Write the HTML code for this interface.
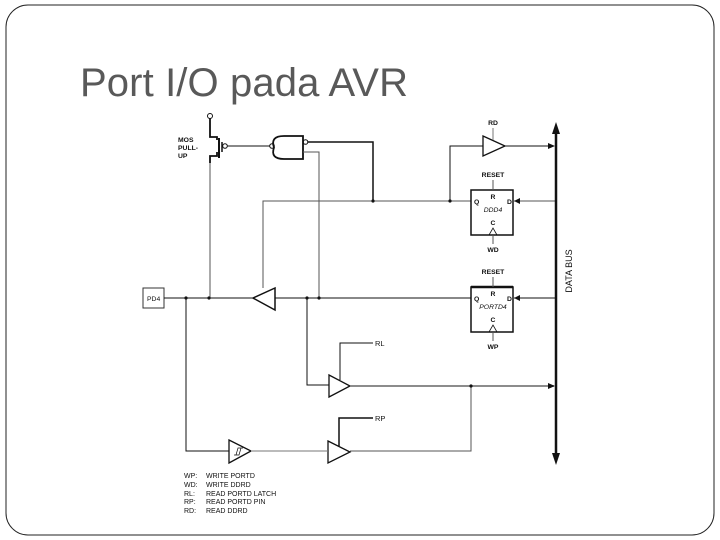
<!DOCTYPE html>
<html><head><meta charset="utf-8"><style>
html,body{margin:0;padding:0;background:#fff;}
svg{display:block;}
</style></head><body>
<svg width="720" height="540" viewBox="0 0 720 540" xmlns="http://www.w3.org/2000/svg" font-family="Liberation Sans, sans-serif">
<rect x="6" y="5" width="708" height="530" rx="22" fill="#fff" stroke="#222" stroke-width="1"/>
<text x="80" y="96" font-size="40" fill="#595959" textLength="328">Port I/O pada AVR</text>

<g stroke="#111" stroke-width="1" fill="none">
<circle cx="210" cy="116" r="2.5"/>
<path d="M210 118.5 V137 H217 V140" stroke-width="1.8"/>
<path d="M217 152 V156 H210 V163" stroke-width="1.8"/>
<path d="M219 138 V158" stroke-width="2"/>
<path d="M222 142 V152" stroke-width="1.5"/>
<circle cx="225" cy="146" r="2.3"/>
<path d="M227 146 H270"/>
<path d="M210 163 V298" stroke="#555"/>
<circle cx="272" cy="146" r="2.3"/>
<path d="M284 136 H303 V159 H284 Q270 159 274 147.5 Q270 136 284 136 Z" stroke-width="1.8"/>
<circle cx="305.5" cy="142" r="2.3"/>
<path d="M308 142 H373 V201" stroke-width="1.5"/>
<path d="M303 152 H319 V298" stroke="#555"/>
<path d="M263 288 V201 H471" stroke="#555"/>
<path d="M450 201 V146 H483"/>
<rect x="143" y="288" width="21" height="20" stroke="#333"/>
<path d="M164 298 H253"/>
<path d="M275 298 H471"/>
<path d="M253 298 L275 288 V310 Z" stroke-width="1.5"/>
<path d="M186 298 V451 H229"/>
<path d="M307 298 V385 H329"/>
<rect x="471" y="190" width="42" height="45" stroke-width="1.5"/>
<path d="M493 180 V190 M493 235 V244" stroke="#555"/>
<path d="M489 235 L493 228 L497 235" stroke-width="0.8"/>
<rect x="471" y="287" width="42" height="45" stroke-width="1.5"/>
<path d="M471 287 H513" stroke-width="2.5"/>
<path d="M493 277 V287 M493 332 V341" stroke="#555"/>
<path d="M489 332 L493 325 L497 332" stroke-width="0.8"/>
<path d="M556 201 H514" stroke="#555"/>
<path d="M556 298 H514"/>
<path d="M483 136 L505 146 L483 156 Z" stroke-width="1.3"/>
<path d="M493 128 V140" stroke="#777"/>
<path d="M505 146 H554"/>
<path d="M329 375 L350 386 L329 397 Z" stroke-width="1.3"/>
<path d="M340 380 V343 H373"/>
<path d="M350 386 H554" stroke="#666" stroke-width="1.5"/>
<path d="M471 386 V451 H350" stroke="#555"/>
<path d="M328 441 L350 452 L328 463 Z" stroke-width="1.3"/>
<path d="M339 446 V418 H373" stroke-width="1.5"/>
<path d="M229 440 L251 451 L229 463 Z" stroke-width="1.3"/>
<path d="M251 451 H328" stroke="#777"/>
<path d="M236 455 L238 448 L243 448 M234 455 L239 455 L241 448" stroke-width="0.7"/>
<path d="M556 132 V455" stroke-width="2.5"/>
</g>
<g fill="#111">
<path d="M556 122 L552 134 L560 134 Z"/>
<path d="M556 465 L552 453 L560 453 Z"/>
<path d="M555 146 L548 143 L548 149 Z"/>
<path d="M555 386 L548 383 L548 389 Z"/>
<path d="M514 201 L520 198 L520 204 Z"/>
<path d="M514 298 L520 295 L520 301 Z"/>
<circle cx="373" cy="201" r="1.6"/><circle cx="450" cy="201" r="1.6"/>
<circle cx="186" cy="298" r="1.6"/><circle cx="209" cy="298" r="1.6"/>
<circle cx="307" cy="298" r="1.6"/><circle cx="319" cy="298" r="1.6"/>
<circle cx="471" cy="386" r="1.6"/>
</g>
<g font-size="6.8" fill="#111" font-weight="bold">
<text x="178" y="142">MOS</text><text x="178" y="150">PULL-</text><text x="178" y="158">UP</text>
<text x="147" y="301" font-weight="normal">PD4</text>
<text x="493" y="125" text-anchor="middle">RD</text>
<text x="493" y="177" text-anchor="middle">RESET</text>
<text x="493" y="199" text-anchor="middle">R</text>
<text x="474" y="204">Q</text><text x="507" y="204">D</text>
<text x="493" y="212" text-anchor="middle" font-style="italic" font-weight="normal">DDD4</text>
<text x="493" y="225" text-anchor="middle">C</text>
<text x="493" y="252" text-anchor="middle">WD</text>
<text x="493" y="274" text-anchor="middle">RESET</text>
<text x="493" y="296" text-anchor="middle">R</text>
<text x="474" y="301">Q</text><text x="507" y="301">D</text>
<text x="493" y="309" text-anchor="middle" font-style="italic" font-weight="normal">PORTD4</text>
<text x="493" y="322" text-anchor="middle">C</text>
<text x="493" y="349" text-anchor="middle">WP</text>
<text x="375" y="346" font-weight="normal" font-size="7.5">RL</text>
<text x="375" y="421" font-weight="normal" font-size="7.5">RP</text>
<text x="572" y="271" transform="rotate(-90 572 271)" text-anchor="middle" font-size="9" font-weight="normal">DATA BUS</text>
</g>
<g font-size="7" fill="#111">
<text x="184" y="478">WP:</text><text x="206" y="478">WRITE PORTD</text>
<text x="184" y="487">WD:</text><text x="206" y="487">WRITE DDRD</text>
<text x="184" y="496">RL:</text><text x="206" y="496">READ PORTD LATCH</text>
<text x="184" y="504">RP:</text><text x="206" y="504">READ PORTD PIN</text>
<text x="184" y="513">RD:</text><text x="206" y="513">READ DDRD</text>
</g>
</svg>
</body></html>
